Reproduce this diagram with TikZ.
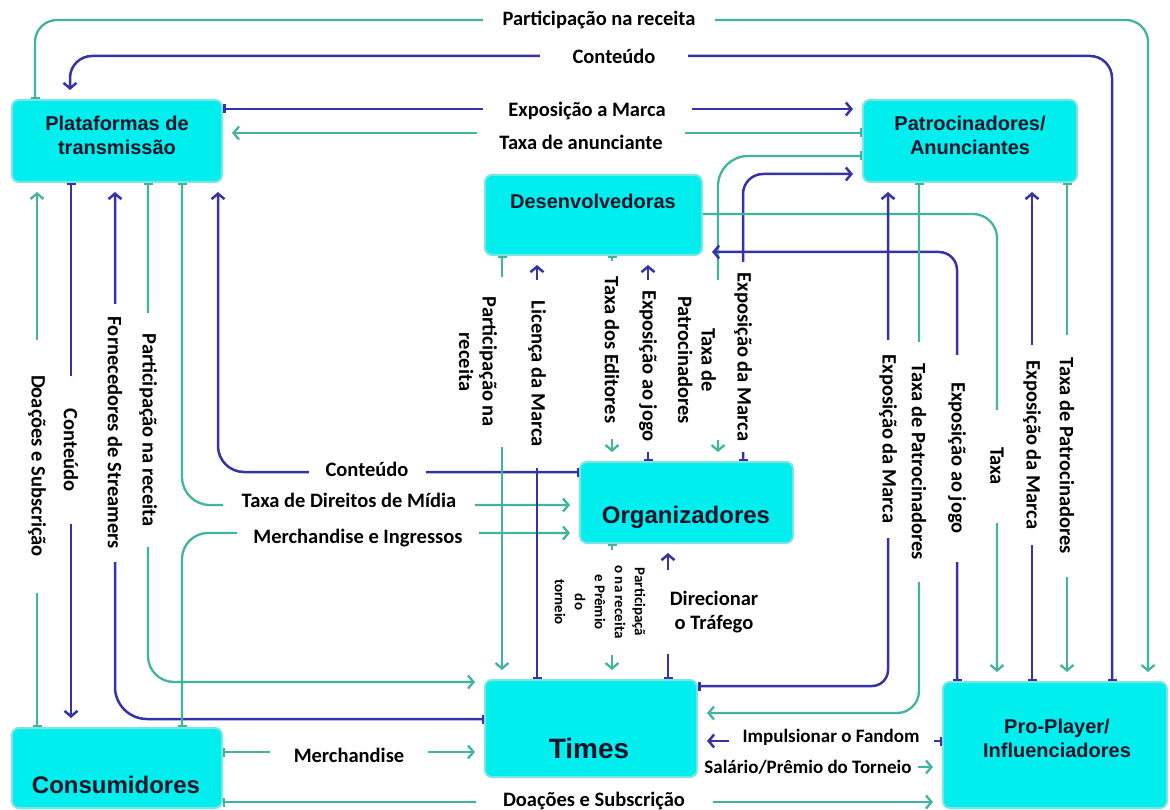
\documentclass[tikz,border=0pt]{standalone}
\usepackage{fontspec}
\setmainfont{Liberation Sans}
\newfontfamily\lblfont{Carlito}
\usetikzlibrary{arrows.meta}
\definecolor{tealc}{RGB}{65,180,160}
\definecolor{navyc}{RGB}{55,50,165}
\definecolor{boxc}{RGB}{0,238,238}
\definecolor{boxe}{RGB}{125,228,228}
\definecolor{btc}{RGB}{20,20,40}
\begin{document}
\begin{tikzpicture}[x=1pt,y=-1pt,
  tl/.style={draw=tealc, line width=2.3pt},
  nv/.style={draw=navyc, line width=2.5pt},
  ba/.style={{Bar[width=9pt]}-{Straight Barb[length=5.5pt,width=13pt]}, shorten >=9pt},
  ar/.style={-{Straight Barb[length=5.5pt,width=13pt]}, shorten >=9pt},
  box/.style={fill=boxc, draw=boxe, line width=2pt, rounded corners=7pt, inner sep=0pt},
  btxt/.style={font=\bfseries\fontsize{20}{24}\selectfont, text=btc, align=center, inner sep=0pt},
  lab/.style={fill=white, inner sep=0pt, text=black, align=center,
    font=\lblfont\bfseries\fontsize{20.5}{23.5}\selectfont, minimum height=26pt},
  slab/.style={lab, font=\lblfont\bfseries\fontsize{19}{23}\selectfont},
  vlab/.style={lab, rotate=-90}]
\fill[white] (0,0) rectangle (1170,810);
\useasboundingbox (0,0) rectangle (1170,810);

% boxes
\node[box, minimum width=210pt, minimum height=82pt] (plat) at (117,141) {};
\node[box, minimum width=214pt, minimum height=82pt] (pat) at (970,141) {};
\node[box, minimum width=217pt, minimum height=80pt] (dev) at (593.5,215) {};
\node[box, minimum width=213pt, minimum height=81pt] (org) at (686.5,502.5) {};
\node[box, minimum width=212pt, minimum height=97pt] (times) at (591,728.5) {};
\node[box, minimum width=210pt, minimum height=80pt] (cons) at (117,768) {};
\node[box, minimum width=224pt, minimum height=126pt] (pro) at (1055,745) {};

\node[btxt] (platT) at (117,135) {Plataformas de\\transmissão};
\node[btxt] (patT) at (970,135.5) {Patrocinadores/\\Anunciantes};
\node[btxt] (devT) at (593,201) {Desenvolvedoras};
\node[btxt, font=\bfseries\fontsize{24}{28}\selectfont] (orgT) at (686,517) {Organizadores};
\node[btxt, font=\bfseries\fontsize{28}{32}\selectfont] (timesT) at (589,748) {Times};
\node[btxt, font=\bfseries\fontsize{24}{28}\selectfont] (consT) at (116,785) {Consumidores};
\node[btxt] (proT) at (1057,738) {Pro-Player/\\Influenciadores};

% connectors
\draw[tl, ba, rounded corners=22pt] (35,0 |- plat.north) -- (35,20) -- (1148,20) -- (1148,0 |- pro.north);
\draw[nv, ba, rounded corners=22pt] (1112,0 |- pro.north) -- (1112,56) -- (70,56) -- (70,0 |- plat.north);
\draw[nv, ba] (plat.east |- 0,109) -- (pat.west |- 0,109);
\draw[tl, ba] (pat.west |- 0,133) -- (plat.east |- 0,133);
\draw[tl, ba, rounded corners=30pt] (pat.west |- 0,156) -- (718,156) -- (718,0 |- org.north);
\draw[nv, ba, rounded corners=20pt] (743,0 |- org.north) -- (743,174) -- (pat.west |- 0,174);
\draw[tl, ar, rounded corners=24pt] (dev.east |- 0,214) -- (997,214) -- (997,0 |- pro.north);
\draw[nv, ba, rounded corners=18pt] (957,0 |- pro.north) -- (957,252) -- (dev.east |- 0,252);
\draw[nv, ba, rounded corners=16pt] (times.east |- 0,686) -- (888,686) -- (888,0 |- pat.south);
\draw[tl, ba, rounded corners=22pt] (919,0 |- pat.south) -- (919,713) -- (times.east |- 0,713);
\draw[nv, ba] (1032,0 |- pro.north) -- (1032,0 |- pat.south);
\draw[tl, ba] (1067,0 |- pat.south) -- (1067,0 |- pro.north);
\draw[nv, ba] (pro.west |- 0,741) -- (times.east |- 0,741);
\draw[tl, ar] (times.east |- 0,767) -- (pro.west |- 0,767);
\draw[tl, ba] (cons.east |- 0,802) -- (pro.west |- 0,802);
\draw[tl, ba] (cons.east |- 0,752) -- (times.west |- 0,752);
\draw[tl, ba] (37,0 |- cons.north) -- (37,0 |- plat.south);
\draw[nv, ba] (71,0 |- plat.south) -- (71,0 |- cons.north);
\draw[nv, ba, rounded corners=32pt] (times.west |- 0,719) -- (115,719) -- (115,0 |- plat.south);
\draw[tl, ba, rounded corners=26pt] (148,0 |- plat.south) -- (148,682) -- (times.west |- 0,682);
\draw[tl, ba, rounded corners=28pt] (182,0 |- plat.south) -- (182,505) -- (org.west |- 0,505);
\draw[nv, ba, rounded corners=26pt] (org.west |- 0,472) -- (218,472) -- (218,0 |- plat.south);
\draw[tl, ba, rounded corners=26pt] (182,0 |- cons.north) -- (182,533) -- (org.west |- 0,533);
\draw[tl, ba] (502,0 |- dev.south) -- (502,0 |- times.north);
\draw[nv, ba] (537,0 |- times.north) -- (537,0 |- dev.south);
\draw[tl, ba] (612,0 |- dev.south) -- (612,0 |- org.north);
\draw[nv, ba] (648,0 |- org.north) -- (648,0 |- dev.south);
\draw[tl, ba] (612,0 |- org.south) -- (612,0 |- times.north);
\draw[nv, ba] (668,0 |- times.north) -- (668,0 |- org.south);

% labels
\node[lab, minimum width=232pt] (l1) at (599,20) {Participação na receita};
\node[lab, minimum width=148pt] (l2) at (614,56) {Conteúdo};
\node[lab, minimum width=209pt] (l3) at (587,111) {Exposição a Marca};
\node[lab, minimum width=208pt] (l4) at (581,142) {Taxa de anunciante};
\node[vlab, minimum width=160pt, minimum height=50pt] (l5) at (697,360) {Taxa de\\Patrocinadores};
\node[vlab, minimum width=190pt] (l6) at (743,357) {Exposição da Marca};
\node[vlab, minimum width=113pt] (l7) at (997,466) {Taxa};
\node[vlab, minimum width=207pt] (l8) at (957,458) {Exposição ao jogo};
\node[vlab, minimum width=198pt] (l9) at (888,439) {Exposição da Marca};
\node[vlab, minimum width=240pt] (l10) at (919,462) {Taxa de Patrocinadores};
\node[vlab, minimum width=200pt] (l11) at (1032,445) {Exposição da Marca};
\node[vlab, minimum width=242pt] (l12) at (1067,456) {Taxa de Patrocinadores};
\node[slab, minimum width=205pt] (l13) at (831,737) {Impulsionar o Fandom};
\node[slab, minimum width=220pt] (l14) at (808,767) {Salário/Prêmio do Torneio};
\node[lab, minimum width=237pt] (l15) at (594,801) {Doações e Subscrição};
\node[lab, minimum width=158pt] (l16) at (349,755) {Merchandise};
\node[vlab, minimum width=253pt] (l17) at (37,466) {Doações e Subscrição};
\node[vlab, minimum width=148pt] (l18) at (71,450) {Conteúdo};
\node[vlab, minimum width=257pt] (l19) at (115,433) {Fornecedores de Streamers};
\node[vlab, minimum width=234pt] (l20) at (148,430) {Participação na receita};
\node[lab, minimum width=252pt] (l21) at (349,500) {Taxa de Direitos de Mídia};
\node[lab, minimum width=117pt] (l22) at (367,469) {Conteúdo};
\node[lab, minimum width=242pt] (l23) at (358,538) {Merchandise e Ingressos};
\node[vlab, minimum width=170pt, minimum height=56pt] (l24) at (478,362) {Participação na\\receita};
\node[vlab, minimum width=188pt] (l25) at (537,374) {Licença da Marca};
\node[vlab, minimum width=178pt] (l26) at (612,350) {Taxa dos Editores};
\node[vlab, minimum width=172pt] (l27) at (648,366) {Exposição ao jogo};
\node[vlab, minimum width=105pt, minimum height=100pt,
  font=\lblfont\bfseries\fontsize{15}{20}\selectfont] (l28) at (600,602)
  {Participaçã\\o na receita\\e Prêmio\\do\\torneio};
\node[lab, minimum width=100pt, minimum height=84pt] (l29) at (714,612) {Direcionar\\o Tráfego};
\end{tikzpicture}
\end{document}
